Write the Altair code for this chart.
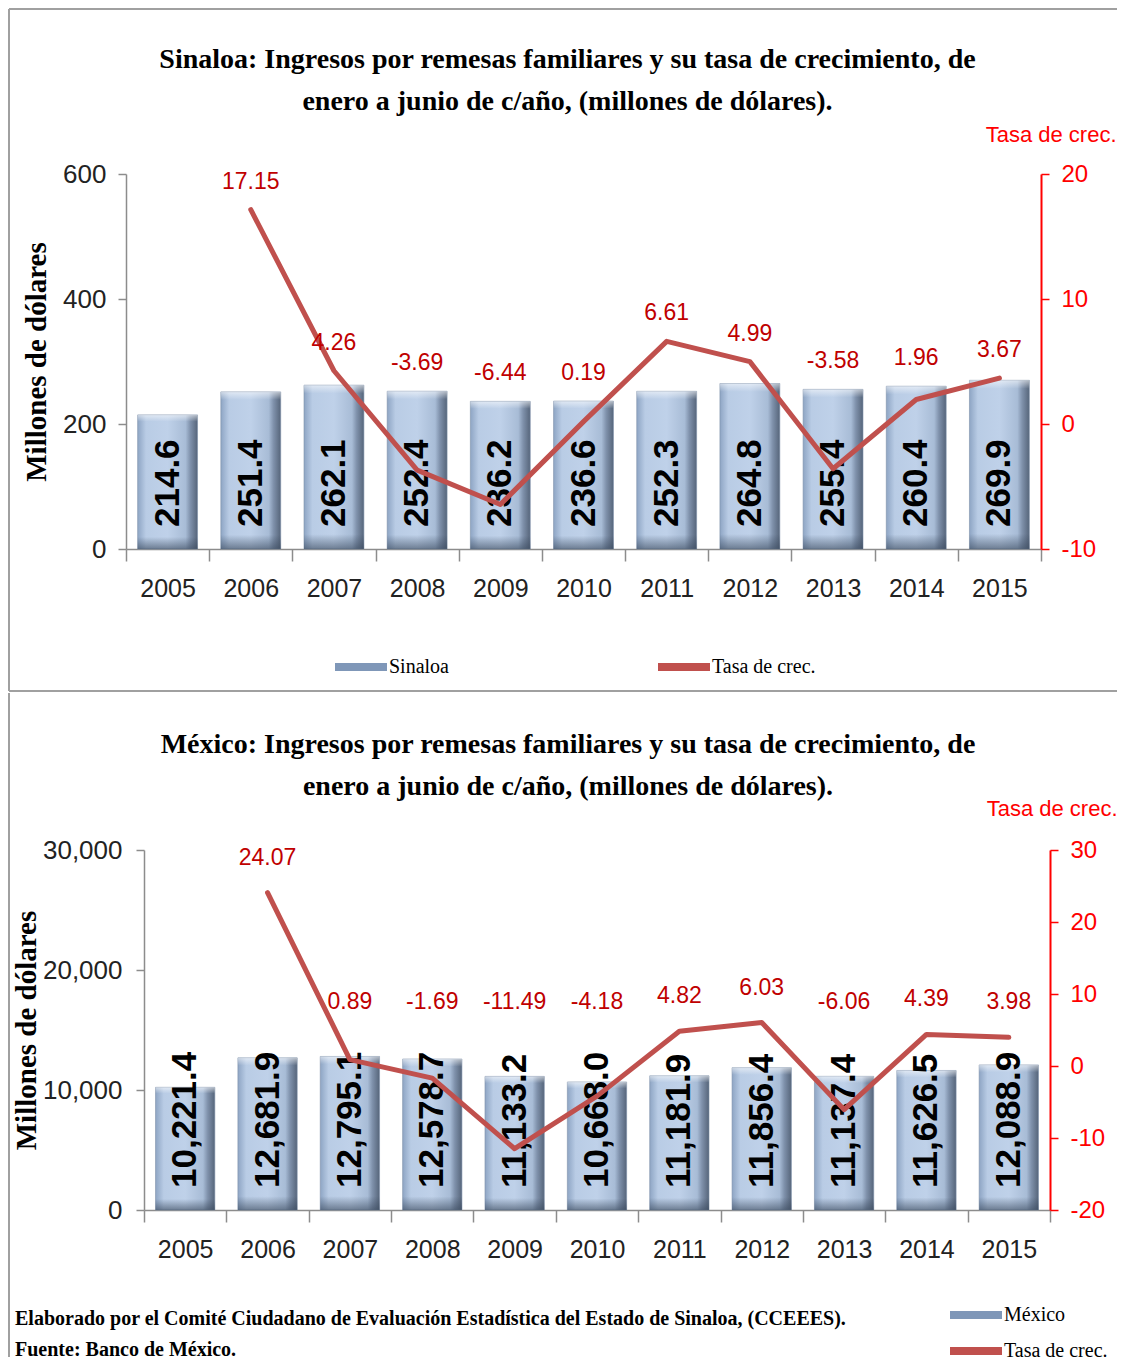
import altair as alt
import pandas as pd

# ---------------- data ----------------
years = ["2005", "2006", "2007", "2008", "2009", "2010", "2011", "2012", "2013", "2014", "2015"]
sinaloa_ingresos = [214.6, 251.4, 262.1, 252.4, 236.2, 236.6, 252.3, 264.8, 255.4, 260.4, 269.9]
sinaloa_tasa = [None, 17.15, 4.26, -3.69, -6.44, 0.19, 6.61, 4.99, -3.58, 1.96, 3.67]
mexico_ingresos = [10221.4, 12681.9, 12795.1, 12578.7, 11133.2, 10668.0, 11181.9, 11856.4, 11137.4, 11626.5, 12088.9]
mexico_tasa = [None, 24.07, 0.89, -1.69, -11.49, -4.18, 4.82, 6.03, -6.06, 4.39, 3.98]

sinaloa_left_ticks = [0, 200, 400, 600]
sinaloa_right_ticks = [-10, 0, 10, 20]
mexico_left_ticks = [0, 10000, 20000, 30000]
mexico_right_ticks = [-20, -10, 0, 10, 20, 30]

title_sinaloa = ["Sinaloa: Ingresos por remesas familiares y su tasa de crecimiento, de",
                 "enero a junio de c/año, (millones de dólares)."]
title_mexico = ["México: Ingresos por remesas familiares y su tasa de crecimiento, de",
                "enero a junio de c/año, (millones de dólares)."]
footer = ["Elaborado por el Comité Ciudadano de Evaluación Estadística del Estado de Sinaloa, (CCEEES).",
          "Fuente: Banco de México."]

# ---------------- style ----------------
SERIF = "Liberation Serif"
SANS = "Liberation Sans"
LINE_COLOR = "#c0504d"
LABEL_RED = "#c00000"
AXIS_RED = "#ff0000"
BAR_COLOR = "#7f97b8"
FRAME_COLOR = "#a0a0a0"

BAR_GRAD = {"gradient": "linear", "x1": 0, "x2": 1, "y1": 0, "y2": 0,
            "stops": [{"offset": 0, "color": "#8ea5c4"},
                      {"offset": 0.14, "color": "#b9cce5"},
                      {"offset": 0.5, "color": "#bfd1e9"},
                      {"offset": 0.8, "color": "#a8bcd6"},
                      {"offset": 0.88, "color": "#7f91ab"},
                      {"offset": 1, "color": "#56657a"}]}
SHADE_GRAD = {"gradient": "linear", "x1": 0, "x2": 0, "y1": 0, "y2": 1,
              "stops": [{"offset": 0, "color": "rgba(255,255,255,0.55)"},
                        {"offset": 0.05, "color": "rgba(255,255,255,0)"},
                        {"offset": 0.91, "color": "rgba(55,70,90,0)"},
                        {"offset": 1, "color": "rgba(55,70,90,0.6)"}]}
SYMBOL = "M-2,-0.3L2,-0.3L2,0.3L-2,0.3Z"

frame_df = pd.DataFrame({"k": [0]})


def hline(x1, x2, y):
    return alt.Chart(frame_df).mark_rule(color=FRAME_COLOR, strokeWidth=2).encode(
        x=alt.value(x1), x2=alt.value(x2), y=alt.value(y), y2=alt.value(y))


def vline(x, y1, y2):
    return alt.Chart(frame_df).mark_rule(color=FRAME_COLOR, strokeWidth=2).encode(
        x=alt.value(x), x2=alt.value(x), y=alt.value(y1), y2=alt.value(y2))


def panel(ingresos, tasa, serie, *, width, height, x_start, left_ticks, left_fmt, bar_fmt,
          right_ticks, anchor_expr, label_dy, title_lines, title_offset, title_dx, left_offset,
          left_title_x, left_label_pad, right_title_x, right_title_y, legend, frames):
    df = pd.DataFrame({"anio": years, "ingresos": ingresos, "tasa": tasa})
    base = alt.Chart(df)

    if x_start:
        xscale = alt.Scale(paddingInner=0, paddingOuter=0, range=[x_start, width])
    else:
        xscale = alt.Scale(paddingInner=0, paddingOuter=0)
    xaxis = alt.Axis(title=None, labelAngle=0, tickBand="extent", tickSize=12, tickColor="#8c8c8c",
                     domainColor="#8c8c8c", domainWidth=1.5, tickWidth=1.5, labelFont=SANS,
                     labelFontSize=25, labelColor="#222222", labelPadding=15, grid=False)
    x = alt.X("anio:O", scale=xscale, axis=xaxis)

    laxis = alt.Axis(values=left_ticks, format=left_fmt, title="Millones de dólares", titleFont=SERIF,
                     titleFontSize=29, titleFontWeight="bold", titleColor="black", titleX=left_title_x,
                     titleBaseline="middle", labelFont=SANS, labelFontSize=26, labelColor="#222222",
                     labelPadding=left_label_pad, tickSize=8, tickColor="#8c8c8c", tickWidth=1.5,
                     domainColor="#8c8c8c", domainWidth=1.5, grid=False, offset=left_offset)
    lscale = alt.Scale(domain=[left_ticks[0], left_ticks[-1]])

    bars = base.mark_bar(fill=BAR_GRAD, stroke="#7d90aa", strokeWidth=0.6,
                         width=alt.RelativeBandSize(0.72)).encode(
        x=x, y=alt.Y("ingresos:Q", scale=lscale, axis=laxis))
    shade = base.mark_bar(fill=SHADE_GRAD, width=alt.RelativeBandSize(0.72)).encode(
        x=x, y=alt.Y("ingresos:Q", scale=lscale, axis=laxis))
    blab = base.transform_calculate(cero="0").mark_text(
        angle=270, align="left", baseline="middle", dx=22, font=SANS, fontWeight="bold",
        fontSize=35, color="black").encode(
        x=x, y=alt.Y("cero:Q", scale=lscale, axis=laxis),
        text=alt.Text("ingresos:Q", format=bar_fmt))

    raxis = alt.Axis(orient="right", values=right_ticks, title="Tasa de crec.", titleFont=SANS,
                     titleFontSize=22, titleFontWeight="normal", titleColor=AXIS_RED, titleAngle=0,
                     titleAlign="right", titleBaseline="middle", titleX=right_title_x,
                     titleY=right_title_y, labelFont=SANS, labelFontSize=24, labelColor=AXIS_RED,
                     labelPadding=12, labelExpr="replace(datum.label, '\u2212', '-')",
                     tickSize=8, tickColor=AXIS_RED, tickWidth=1.5, domainColor=AXIS_RED,
                     domainWidth=2, grid=False)
    rscale = alt.Scale(domain=[right_ticks[0], right_ticks[-1]])
    rbase = base.transform_filter("isValid(datum.tasa)")

    line = rbase.mark_line(color=LINE_COLOR, strokeWidth=5, strokeJoin="round", strokeCap="round").encode(
        x=x, y=alt.Y("tasa:Q", scale=rscale, axis=raxis))
    rlab = rbase.transform_calculate(
        ly=anchor_expr,
        txt="replace(format(datum.tasa, '.2f'), '\u2212', '-')").mark_text(
        baseline="middle", dy=label_dy, font=SANS, fontSize=23, color=LABEL_RED).encode(
        x=x, y=alt.Y("ly:Q", scale=rscale, axis=raxis), text="txt:N")
    legpts = rbase.transform_calculate(serie="'Tasa de crec.'").mark_point(
        filled=True, opacity=0, size=4).encode(
        x=x, y=alt.Y("tasa:Q", scale=rscale, axis=raxis),
        color=alt.Color("serie:N",
                        scale=alt.Scale(domain=[serie, "Tasa de crec."], range=[BAR_COLOR, LINE_COLOR]),
                        legend=legend))

    left = alt.layer(*frames, bars, shade, blab)
    right = alt.layer(line, rlab, legpts)
    return alt.layer(left, right).resolve_scale(y="independent").properties(
        width=width, height=height,
        title=alt.TitleParams(text=title_lines, font=SERIF, fontSize=28, fontWeight="bold",
                              color="black", lineHeight=42, offset=title_offset, anchor="middle",
                              dx=title_dx))


legend_top = alt.Legend(title=None, orient="none", legendX=222, legendY=480, direction="horizontal",
                        symbolType=SYMBOL, symbolSize=676, symbolStrokeWidth=0, symbolOpacity=1,
                        labelFont=SERIF, labelFontSize=20, labelColor="black", labelOffset=15,
                        columnPadding=209)
legend_bottom = alt.Legend(title=None, orient="none", legendX=837, legendY=452, direction="vertical",
                           symbolType=SYMBOL, symbolSize=676, symbolStrokeWidth=0, symbolOpacity=1,
                           labelFont=SERIF, labelFontSize=20, labelColor="black", labelOffset=15,
                           rowPadding=13)

top = panel(sinaloa_ingresos, sinaloa_tasa, "Sinaloa", width=915, height=375, x_start=0,
            left_ticks=sinaloa_left_ticks, left_fmt="d", bar_fmt=".1f",
            right_ticks=sinaloa_right_ticks, anchor_expr="max(datum.tasa, datum.ingresos / 20 - 10)",
            label_dy=-28, title_lines=title_sinaloa, title_offset=-108, title_dx=-16, left_offset=0,
            left_title_x=-90, left_label_pad=12, right_title_x=75, right_title_y=-40,
            legend=legend_top,
            frames=[hline(-117, 991, -165), vline(-117, -165, 517), hline(-117, 991, 517)])

bottom = panel(mexico_ingresos, mexico_tasa, "México", width=924, height=360, x_start=18,
               left_ticks=mexico_left_ticks, left_fmt=",d", bar_fmt=",.1f",
               right_ticks=mexico_right_ticks, anchor_expr="max(datum.tasa, 4)",
               label_dy=-35, title_lines=title_mexico, title_offset=-109, title_dx=-20, left_offset=-18,
               left_title_x=-118, left_label_pad=14, right_title_x=67, right_title_y=-42,
               legend=legend_bottom,
               frames=[vline(-117, -157, 507)])

chart = alt.vconcat(top, bottom, spacing=0).resolve_scale(color="independent").properties(
    padding=0,
    title=alt.TitleParams(text=footer, orient="bottom", anchor="start", font=SERIF, fontSize=20,
                          fontWeight="bold", color="black", lineHeight=31, offset=-52, dx=7),
).configure_view(stroke=None)

chart.save("out.html", embed_options={"renderer": "svg", "actions": False})
